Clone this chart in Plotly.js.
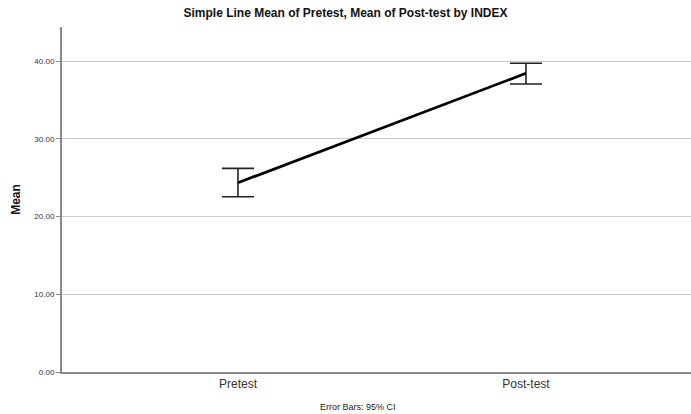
<!DOCTYPE html>
<html>
<head>
<meta charset="utf-8">
<script src="https://cdn.plot.ly/plotly-3.0.1.min.js"></script>
<style>html,body{margin:0;padding:0;background:#fff;}#chart{width:691px;height:414px;}</style>
</head>
<body>
<div id="chart"></div>
<script>
const categories = ["Pretest", "Post-test"];
const means = [24.36, 38.44];
const ciUpper = [26.2, 39.73];
const ciLower = [22.56, 37.07];
const yTickVals = [0, 10, 20, 30, 40];
const yTickText = ["0.00", "10.00", "20.00", "30.00", "40.00"];

const plus = means.map((m, i) => ciUpper[i] - m);
const minus = means.map((m, i) => m - ciLower[i]);

const trace = {
  type: "scatter",
  mode: "lines",
  x: categories,
  y: means,
  line: {color: "#000000", width: 2.8},
  error_y: {
    type: "data", symmetric: false, array: plus, arrayminus: minus,
    color: "#222222", thickness: 1.6, width: 16
  },
  hoverinfo: "skip"
};

const layout = {
  width: 691, height: 414,
  margin: {l: 62, r: 0, t: 27, b: 42},
  paper_bgcolor: "#ffffff", plot_bgcolor: "#ffffff",
  showlegend: false,
  font: {family: "Liberation Sans, Arial, sans-serif", color: "#222"},
  title: {
    text: "<b>Simple Line Mean of Pretest, Mean of Post-test by INDEX</b>",
    font: {size: 12, color: "#111"}, x: 0.5, xanchor: "center", y: 0.97, yanchor: "middle"
  },
  xaxis: {
    type: "category", range: [-0.611, 1.573],
    showgrid: false, zeroline: false,
    showline: true, linecolor: "#8a8a8a", linewidth: 2,
    ticks: "", tickfont: {size: 12, color: "#333"}, automargin: false
  },
  yaxis: {
    range: [0, 44.4], tickvals: yTickVals, ticktext: yTickText,
    showgrid: true, gridcolor: "#cccccc", gridwidth: 1.2,
    zeroline: false, showline: true, linecolor: "#8a8a8a", linewidth: 2,
    ticks: "outside", ticklen: 4, tickcolor: "#8a8a8a",
    tickfont: {size: 8, color: "#333"},
    title: {text: "<b>Mean</b>", font: {size: 12, color: "#111"}, standoff: 11},
    automargin: false
  },
  annotations: [{
    text: "Error Bars: 95% CI", xref: "paper", yref: "paper",
    x: 0.47, y: -0.101, xanchor: "center", yanchor: "middle",
    showarrow: false, font: {size: 9, color: "#222"}
  }]
};

Plotly.newPlot("chart", [trace], layout, {displayModeBar: false, staticPlot: true});
</script>
</body>
</html>
